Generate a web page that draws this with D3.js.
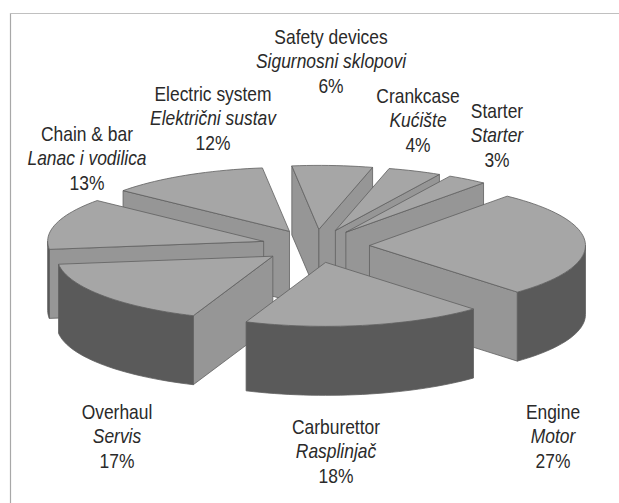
<!DOCTYPE html>
<html><head><meta charset="utf-8">
<style>html,body{margin:0;padding:0;background:#fff}svg{display:block}
text{font-family:"Liberation Sans",Arial,sans-serif;font-size:20.5px;fill:#2a2a2a}</style>
<script src="https://cdn.jsdelivr.net/npm/d3@7/dist/d3.min.js"></script></head><body>
<svg id="c" width="619" height="503"></svg>
<script>
const categories=["Engine","Carburettor","Overhaul","Chain & bar","Electric system","Safety devices","Crankcase","Starter"];
const translations=["Motor","Rasplinjač","Servis","Lanac i vodilica","Električni sustav","Sigurnosni sklopovi","Kućište","Starter"];
const values=[27,18,17,13,12,6,4,3];
const labelX=[553,336,117,87,213,331,418,497];
const labelY=[419,434,419,141,101,44,103,118];
const drawOrder=[5,6,7,4,3,2,0,1];

const cx=315.5,cy=246,rx=216,ry=64,depth=69,explodeX=0.25,explodeY=0.26;
const topCol="#a6a6a6",cutCol="#969696",outerCol="#5a5a5a",edge="#5f5f5f";
const svg=d3.select("#c");
const sx=d3.scaleLinear().domain([-1,1]).range([cx-rx,cx+rx]);
const sy=d3.scaleLinear().domain([-1,1]).range([cy-ry,cy+ry]);
const dz=d3.scaleLinear().domain([0,1]).range([0,depth]);
const start=39.6*Math.PI/180;
const arcs=d3.pie().sort(null).value(d=>d).startAngle(start).endAngle(start+2*Math.PI)(values);
const line=d3.line().x(d=>d[0]).y(d=>d[1]);

svg.append("path").attr("d",line([[10.5,503],[10.5,13]])).attr("fill","none").attr("stroke","#a8a8a8").attr("stroke-width",1.2);
svg.append("path").attr("d",line([[10,13.5],[619,13.5]])).attr("fill","none").attr("stroke","#c0c0c0").attr("stroke-width",1.2);

function pt(a,mid,r,z){
  const ox=explodeX*Math.sin(mid),oy=-explodeY*Math.cos(mid);
  return [sx(ox+r*Math.sin(a)),sy(oy-r*Math.cos(a))+dz(z)];
}
function samples(a0,a1){const n=Math.max(2,Math.ceil((a1-a0)/(Math.PI/90)));return d3.range(n+1).map(i=>a0+(a1-a0)*i/n);}
function face(d,col){svg.append("path").attr("d",line(d)+"Z").attr("fill",col).attr("stroke",edge).attr("stroke-width",.8).attr("stroke-linejoin","round");}
drawOrder.forEach(i=>{
  const s=arcs[i],a0=s.startAngle,a1=s.endAngle,m=(a0+a1)/2;
  if(Math.sin(a0)<0) face([pt(0,m,0,0),pt(a0,m,1,0),pt(a0,m,1,1),pt(0,m,0,1)],cutCol);
  if(Math.sin(a1)>0) face([pt(0,m,0,0),pt(a1,m,1,0),pt(a1,m,1,1),pt(0,m,0,1)],cutCol);
  const f0=Math.max(a0,Math.PI/2),f1=Math.min(a1,1.5*Math.PI);
  if(f1>f0){const ang=samples(f0,f1);
    face(ang.map(a=>pt(a,m,1,0)).concat(ang.slice().reverse().map(a=>pt(a,m,1,1))),outerCol);}
  face([pt(0,m,0,0)].concat(samples(a0,a1).map(a=>pt(a,m,1,0))),topCol);
});
categories.forEach((c,i)=>{
  const t=svg.append("text").attr("text-anchor","middle").attr("transform",`translate(${labelX[i]},${labelY[i]}) scale(.85,1)`);
  t.append("tspan").attr("x",0).attr("y",0).text(c);
  t.append("tspan").attr("x",0).attr("y",24.5).attr("font-style","italic").text(translations[i]);
  t.append("tspan").attr("x",0).attr("y",49).text(values[i]+"%");
});
</script></body></html>
